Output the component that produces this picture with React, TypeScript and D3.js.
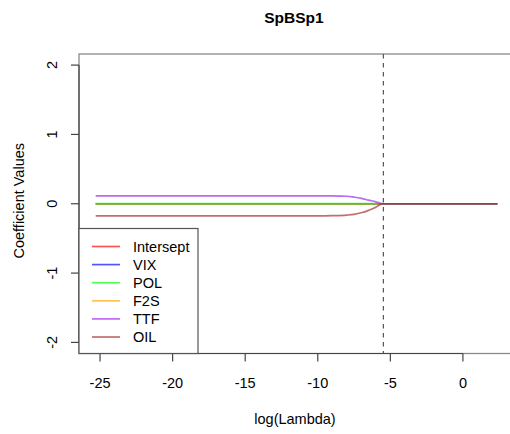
import React from "react";
import * as d3 from "d3";

const title = "SpBSp1";
const xLabel = "log(Lambda)";
const yLabel = "Coefficient Values";
const xTicks = [-25, -20, -15, -10, -5, 0];
const yTicks = [-2, -1, 0, 1, 2];
const selectedLogLambda = -5.48;

const logLambda = [-25.3, -20, -15, -12, -10, -9, -8, -7.5, -7, -6.5, -6, -5.75, -5.5, -5, -3, 0, 2.37];
const seriesNames = ["Intersept", "VIX", "POL", "F2S", "TTF", "OIL"];
const intercept = [0, 0, 0, 0, 0, 0, 0, 0, 0, 0, 0, 0, 0, 0, 0, 0, 0];
const vix = [0, 0, 0, 0, 0, 0, 0, 0, 0, 0, 0, 0, 0, 0, 0, 0, 0];
const pol = [0.002, 0.002, 0.002, 0.002, 0.002, 0.002, 0.002, 0.002, 0.0015, 0.001, 0.0005, 0, 0, 0, 0, 0, 0];
const f2s = [-0.003, -0.003, -0.003, -0.003, -0.003, -0.003, -0.003, -0.003, -0.003, -0.0025, -0.002, -0.001, 0, 0, 0, 0, 0];
const ttf = [0.115, 0.115, 0.115, 0.115, 0.115, 0.114, 0.108, 0.095, 0.078, 0.052, 0.027, 0.012, 0, 0, 0, 0, 0];
const oil = [-0.175, -0.175, -0.175, -0.175, -0.175, -0.172, -0.163, -0.152, -0.13, -0.095, -0.05, -0.018, 0, 0, 0, 0, 0];
const seriesValues = [intercept, vix, pol, f2s, ttf, oil];
const seriesColors = ["#ff0000", "#0000ff", "#00ff00", "#ffa500", "#a020f0", "#a52a2a"];
const drawOrder = [0, 1, 3, 2, 4, 5];

const FONT = "'Liberation Sans', Arial, Helvetica, sans-serif";

export default function App() {
  const W = 510, H = 434;
  const left = 79, right = 513, top = 54, bottom = 353.5;
  const x = d3.scaleLinear().domain([-26.45, 3.45]).range([left, right]);
  const y = d3.scaleLinear().domain([-2.16, 2.16]).range([bottom, top]);
  const line = d3
    .line<number>()
    .x((_, i) => x(logLambda[i]))
    .y((d) => y(d))
    .curve(d3.curveMonotoneX);

  const legX = 79, legY = 228.5, legW = 119, legH = bottom - legY;
  const legRow0 = 246.5, legStep = 18.1;
  const fs = 14.5;

  return (
    <svg width={W} height={H} style={{ position: "absolute", left: 0, top: 0, background: "#fff" }}
      fontFamily={FONT}>
      <rect x={0} y={0} width={W} height={H} fill="#fff" />
      <text x={294} y={23} textAnchor="middle" fontWeight="bold" fontSize={15.5} fill="#000">{title}</text>

      {/* plot box */}
      <rect x={left} y={top} width={right - left} height={bottom - top} fill="none" stroke="#8a8a8a" strokeWidth={1.3} />

      {/* series */}
      {drawOrder.map((si) => (
        <path key={si} d={line(seriesValues[si]) || ""} fill="none" stroke={seriesColors[si]}
          strokeOpacity={0.68} strokeWidth={1.7} />
      ))}

      {/* dashed lambda line */}
      <line x1={x(selectedLogLambda)} x2={x(selectedLogLambda)} y1={top} y2={bottom}
        stroke="#555" strokeWidth={1.2} strokeDasharray="4.5,4.5" />

      {/* x axis */}
      <line x1={x(xTicks[0])} x2={x(xTicks[xTicks.length - 1])} y1={bottom} y2={bottom} stroke="#444" strokeWidth={1.2} />
      {xTicks.map((t) => (
        <g key={t}>
          <line x1={x(t)} x2={x(t)} y1={bottom} y2={bottom + 8} stroke="#444" strokeWidth={1.2} />
          <text x={x(t)} y={388} textAnchor="middle" fontSize={fs} fill="#000">{t}</text>
        </g>
      ))}
      <text x={295} y={424} textAnchor="middle" fontSize={fs} fill="#000">{xLabel}</text>

      {/* y axis */}
      <line x1={left} x2={left} y1={y(yTicks[0])} y2={y(yTicks[yTicks.length - 1])} stroke="#444" strokeWidth={1.2} />
      {yTicks.map((t) => (
        <g key={t}>
          <line x1={left - 8} x2={left} y1={y(t)} y2={y(t)} stroke="#444" strokeWidth={1.2} />
          <text transform={`translate(56.5,${y(t)}) rotate(-90)`} textAnchor="middle" fontSize={fs} fill="#000">{t}</text>
        </g>
      ))}
      <text transform={`translate(24,${(top + bottom) / 2 - 3}) rotate(-90)`} textAnchor="middle" fontSize={fs} fill="#000">{yLabel}</text>

      {/* legend */}
      <rect x={legX} y={legY} width={legW} height={legH} fill="#fff" stroke="#555" strokeWidth={1.2} />
      {seriesNames.map((n, i) => (
        <g key={n}>
          <line x1={92} x2={120} y1={legRow0 + i * legStep} y2={legRow0 + i * legStep}
            stroke={seriesColors[i]} strokeOpacity={0.68} strokeWidth={1.7} />
          <text x={133} y={legRow0 + i * legStep + 5} fontSize={fs} fill="#000">{n}</text>
        </g>
      ))}
    </svg>
  );
}
